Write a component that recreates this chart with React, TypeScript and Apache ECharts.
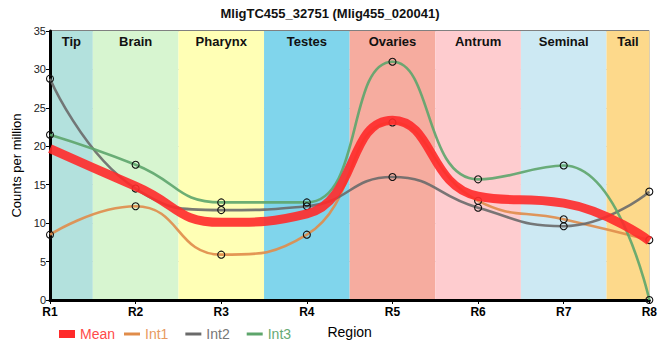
import React, { useEffect, useRef } from "react";
import * as echarts from "echarts";

const regions = ["R1", "R2", "R3", "R4", "R5", "R6", "R7", "R8"];
const meanValues = [19.7, 14.8, 10.1, 11.2, 23.4, 13.5, 12.6, 7.7];
const int1Values = [8.5, 12.2, 5.9, 8.5, 23.1, 12.9, 10.5, 7.8];
const int2Values = [28.8, 14.5, 11.7, 12.2, 16.0, 12.0, 9.6, 14.1];
const int3Values = [21.5, 17.6, 12.7, 12.7, 31.0, 15.7, 17.5, 0];

const bandNames = ["Tip", "Brain", "Pharynx", "Testes", "Ovaries", "Antrum", "Seminal", "Tail"];
const bandStarts = [0, 0.5, 1.5, 2.5, 3.5, 4.5, 5.5, 6.5];
const bandEnds = [0.5, 1.5, 2.5, 3.5, 4.5, 5.5, 6.5, 7];
const bandColors = ["#b3e1dd", "#d7f5d0", "#ffffb5", "#80d5ec", "#f6ac9f", "#fecccf", "#cde9f3", "#fdd98b"];

const yTicks = [0, 5, 10, 15, 20, 25, 30, 35];

const seriesColors = {
  Mean: "#ff2a2a",
  Int1: "#e08c4a",
  Int2: "#6a6a6a",
  Int3: "#5da56b",
};

export default function App() {
  const ref = useRef<HTMLDivElement>(null);

  useEffect(() => {
    if (!ref.current) return;
    const chart = echarts.init(ref.current, undefined, { renderer: "svg" });

    const toXY = (vals: number[]) => vals.map((v, i) => [i, v]);

    const intSeries = (name: string, vals: number[], color: string) => ({
      name,
      type: "line",
      z: 3,
      data: toXY(vals),
      smooth: 0.5,
      symbol: "circle",
      symbolSize: 7,
      showSymbol: true,
      lineStyle: { color, width: 2.6, opacity: 0.9 },
      itemStyle: { color: "rgba(255,255,255,0)", borderColor: "#111", borderWidth: 1.1 },
      emphasis: { disabled: true },
    });

    const legendFont = "Liberation Sans Narrow, Liberation Sans, Arial, sans-serif";

    const option: any = {
      animation: false,
      title: {
        text: "MligTC455_32751 (Mlig455_020041)",
        left: "center",
        top: 2,
        textStyle: { fontSize: 13, fontWeight: "bold", color: "#111", fontFamily: "Liberation Sans, Arial, sans-serif" },
      },
      grid: {
        left: 50,
        right: 9,
        top: 31,
        bottom: 60,
        show: true,
        z: 1,
        backgroundColor: "rgba(0,0,0,0)",
        borderColor: "#000",
        borderWidth: 1,
      },
      legend: [
        {
          left: 54,
          top: 322,
          icon: "rect",
          itemWidth: 16,
          itemHeight: 8,
          itemGap: 18,
          textStyle: { fontSize: 14, fontFamily: legendFont },
          data: [
            { name: "Mean", itemStyle: { color: seriesColors.Mean }, textStyle: { color: "#ff4a4a" } },
          ],
        },
        {
          left: 119,
          top: 322,
          icon: "rect",
          itemWidth: 16,
          itemHeight: 3,
          itemGap: 17,
          textStyle: { fontSize: 14, fontFamily: legendFont },
          data: [
            { name: "Int1", itemStyle: { color: seriesColors.Int1, borderWidth: 0 }, textStyle: { color: "#e89a60" } },
            { name: "Int2", itemStyle: { color: seriesColors.Int2, borderWidth: 0 }, textStyle: { color: "#777777" } },
            { name: "Int3", itemStyle: { color: seriesColors.Int3, borderWidth: 0 }, textStyle: { color: "#66aa74" } },
          ],
        },
      ],
      xAxis: {
        type: "value",
        min: 0,
        max: 7,
        interval: 1,
        z: 1,
        name: "Region",
        nameLocation: "middle",
        nameGap: 25,
        nameTextStyle: { fontSize: 14, color: "#000", fontFamily: legendFont },
        axisLine: { show: true, onZero: false, lineStyle: { color: "#000", width: 3 } },
        axisTick: { show: true, length: 4, lineStyle: { color: "#000" } },
        axisLabel: {
          formatter: (v: number) => regions[Math.round(v)] ?? "",
          fontSize: 12,
          lineHeight: 12,
          fontWeight: "bold",
          color: "#000",
          margin: 6,
          fontFamily: "Liberation Sans, Arial, sans-serif",
        },
        splitLine: { show: true, lineStyle: { color: "#c8c8c8", width: 1 } },
      },
      yAxis: {
        type: "value",
        min: 0,
        max: 35,
        interval: 5,
        z: 1,
        name: "Counts per million",
        nameLocation: "middle",
        nameGap: 27,
        nameTextStyle: { fontSize: 13, color: "#000", fontFamily: "Liberation Sans, Arial, sans-serif" },
        axisLine: { show: true, lineStyle: { color: "#000", width: 3 } },
        axisTick: { show: true, length: 4, lineStyle: { color: "#000" } },
        axisLabel: {
          formatter: (v: number) => (yTicks.includes(v) ? String(v) : ""),
          fontSize: 11,
          lineHeight: 10,
          color: "#222",
          margin: 4,
          fontFamily: "Liberation Sans, Arial, sans-serif",
        },
        splitLine: { show: true, lineStyle: { color: "#c8c8c8", width: 1 } },
      },
      series: [
        {
          name: "bands",
          type: "line",
          z: 0,
          data: [],
          silent: true,
          markArea: {
            silent: true,
            data: bandNames.map((n, i) => [
              {
                name: n,
                xAxis: bandStarts[i],
                itemStyle: { color: bandColors[i] },
                label: {
                  show: true,
                  position: "insideTop",
                  distance: 4,
                  fontSize: 13,
                  fontWeight: "bold",
                  color: "#111",
                  fontFamily: "Liberation Sans, Arial, sans-serif",
                },
              },
              { xAxis: bandEnds[i] },
            ]),
          },
        },
        {
          name: "Mean",
          type: "line",
          z: 4,
          data: toXY(meanValues),
          smooth: 0.5,
          showSymbol: false,
          symbol: "none",
          lineStyle: { color: seriesColors.Mean, width: 9, opacity: 0.9 },
          itemStyle: { color: seriesColors.Mean },
          emphasis: { disabled: true },
        },
        intSeries("Int1", int1Values, seriesColors.Int1),
        intSeries("Int2", int2Values, seriesColors.Int2),
        intSeries("Int3", int3Values, seriesColors.Int3),
      ],
    };

    chart.setOption(option);
    return () => chart.dispose();
  }, []);

  return <div ref={ref} style={{ width: 660, height: 360, position: "absolute", left: 0, top: 0 }} />;
}
